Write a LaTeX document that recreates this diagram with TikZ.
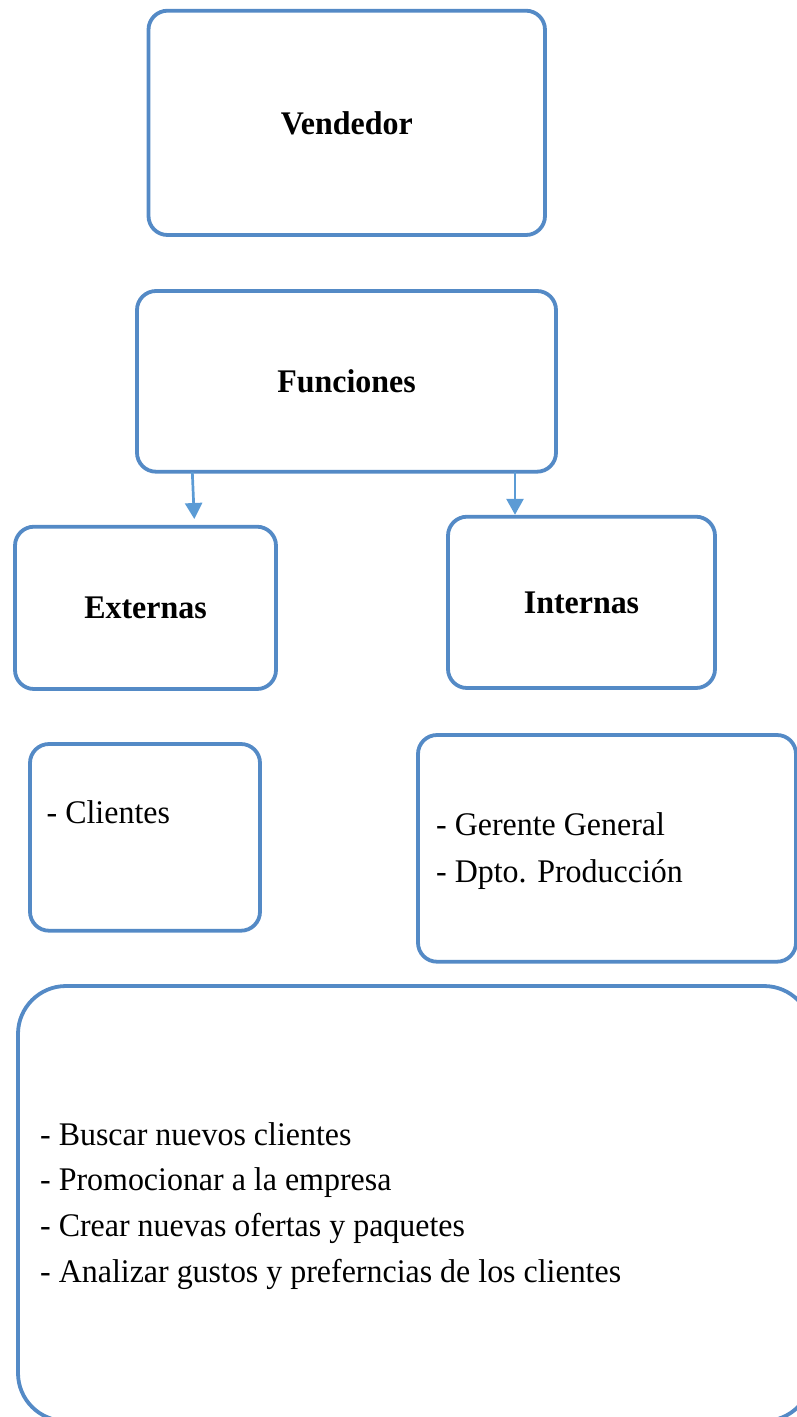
\documentclass[tikz,border=0pt]{standalone}
\usepackage{fontspec}
\setmainfont{Liberation Serif}[FakeStretch=0.968]
\usetikzlibrary{arrows.meta}
\definecolor{boxblue}{RGB}{84,138,198}
\definecolor{arrowblue}{RGB}{91,155,213}
\tikzset{
  box/.style={draw=boxblue, line width=3.8pt, rounded corners=19pt, inner sep=0pt, fill=white},
  title/.style={font=\fontsize{33}{45.8}\selectfont\bfseries},
  item/.style={font=\fontsize{33}{45.8}\selectfont, inner sep=0pt, anchor=base west},
  arr/.style={draw=arrowblue, line width=2.7pt, -{Triangle[length=16pt,width=17pt]}}
}
\begin{document}
\begin{tikzpicture}[x=1pt,y=-1pt]
\useasboundingbox (0,0) rectangle (797,1417);
\clip (0,0) rectangle (797,1417);

% top level
\node[box, title, minimum width=396.5pt, minimum height=224.3pt] (vend) at (346.75,122.85) {Vendedor};
\node[box, title, minimum width=419pt, minimum height=180.7pt] (fun) at (346.5,381.35) {Funciones};

% two branches
\node[box, title, minimum width=261pt, minimum height=162.3pt] (ext) at (145.5,607.85) {Externas};
\node[box, title, minimum width=267pt, minimum height=171.3pt] (int) at (581.5,602.35) {Internas};

% connectors
\coordinate (a1s) at (192.3,472);
\coordinate (a1e) at (194.3,519);
\coordinate (a2s) at (515,472);
\draw[arr] (a1s) -- (a1e);
\draw[arr] (a2s) -- (a2s |- int.north);

% lists of contacts
\node[box, minimum width=230pt, minimum height=186.7pt] (cli) at (145,837.35) {};
\node[item] (clit) at (46.5,823) {- Clientes};

\node[box, minimum width=378pt, minimum height=226.7pt] (ger) at (607,848.35) {};
\node[item] (g1) at (436,835.7) {- Gerente General};
\node[item] (g2) at (436,882.5) {- Dpto. Producción};

% tasks
\node[box, rounded corners=48pt, minimum width=794pt, minimum height=435pt] (tasks) at (415,1203.5) {};
\node[item] (t1) at (40,1145) {- Buscar nuevos clientes};
\node[item] (t2) at (40,1190.5) {- Promocionar a la empresa};
\node[item] (t3) at (40,1236.5) {- Crear nuevas ofertas y paquetes};
\node[item] (t4) at (40,1282.5) {- Analizar gustos y preferncias de los clientes};
\end{tikzpicture}
\end{document}
